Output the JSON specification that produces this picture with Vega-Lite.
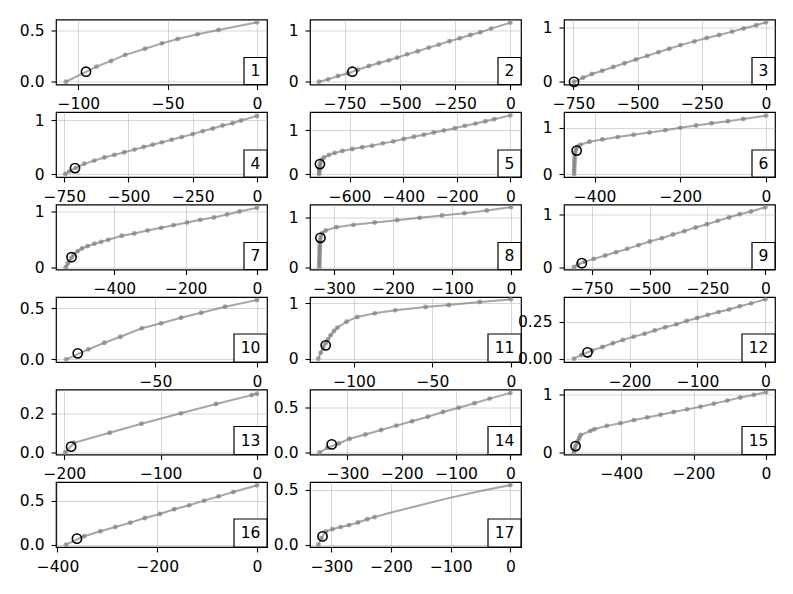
{
"$schema":"https://vega.github.io/schema/vega-lite/v6.json",
"padding":{"left":18,"top":17.5,"right":5,"bottom":5},
"background":"white",
"config":{"view":{"stroke":"black","strokeWidth":1.2},"font":"DejaVu Sans",
"axis":{"domain":false,"grid":true,"gridColor":"#b0b0b0","gridOpacity":0.5,"gridWidth":1,"tickColor":"black","tickSize":5,"tickWidth":1.1,"labelFont":"DejaVu Sans","labelFontSize":15.5,"labelColor":"black","labelPadding":7,"labelFlush":false,"labelOverlap":false,"labelBound":false,"title":null},
"scale":{"zero":false,"nice":false}},
"datasets":{
"pts":[
{"p":1,"x":-107,"y":0},{"p":1,"x":-89.8,"y":0.149},{"p":1,"x":-81.7,"y":0.205},{"p":1,"x":-73.7,"y":0.265},{"p":1,"x":-62.7,"y":0.325},{"p":1,"x":-53.2,"y":0.378},{"p":1,"x":-44.4,"y":0.421},{"p":1,"x":-33.2,"y":0.467},{"p":1,"x":-21.5,"y":0.51},{"p":1,"x":0,"y":0.586},
{"p":2,"x":-866,"y":0},{"p":2,"x":-825,"y":0.046},{"p":2,"x":-780,"y":0.112},{"p":2,"x":-735,"y":0.165},{"p":2,"x":-690,"y":0.235},{"p":2,"x":-640,"y":0.309},{"p":2,"x":-595,"y":0.368},{"p":2,"x":-550,"y":0.421},{"p":2,"x":-512,"y":0.474},{"p":2,"x":-467,"y":0.539},{"p":2,"x":-419,"y":0.599},{"p":2,"x":-369,"y":0.671},{"p":2,"x":-324,"y":0.73},{"p":2,"x":-276,"y":0.796},{"p":2,"x":-229,"y":0.855},{"p":2,"x":-181,"y":0.921},{"p":2,"x":-136,"y":0.974},{"p":2,"x":-87,"y":1.046},{"p":2,"x":0,"y":1.164},
{"p":3,"x":-748,"y":0},{"p":3,"x":-713,"y":0.075},{"p":3,"x":-678,"y":0.144},{"p":3,"x":-638,"y":0.206},{"p":3,"x":-595,"y":0.275},{"p":3,"x":-551,"y":0.344},{"p":3,"x":-507,"y":0.413},{"p":3,"x":-463,"y":0.481},{"p":3,"x":-419,"y":0.55},{"p":3,"x":-377,"y":0.613},{"p":3,"x":-333,"y":0.681},{"p":3,"x":-279,"y":0.75},{"p":3,"x":-231,"y":0.813},{"p":3,"x":-182,"y":0.869},{"p":3,"x":-132,"y":0.931},{"p":3,"x":-87,"y":0.988},{"p":3,"x":-38,"y":1.05},{"p":3,"x":0,"y":1.106},
{"p":4,"x":-746,"y":0},{"p":4,"x":-730,"y":0.05},{"p":4,"x":-705,"y":0.115},{"p":4,"x":-672,"y":0.19},{"p":4,"x":-633,"y":0.25},{"p":4,"x":-594,"y":0.307},{"p":4,"x":-555,"y":0.356},{"p":4,"x":-516,"y":0.405},{"p":4,"x":-477,"y":0.454},{"p":4,"x":-441,"y":0.503},{"p":4,"x":-406,"y":0.546},{"p":4,"x":-370,"y":0.589},{"p":4,"x":-332,"y":0.638},{"p":4,"x":-293,"y":0.687},{"p":4,"x":-250,"y":0.742},{"p":4,"x":-211,"y":0.798},{"p":4,"x":-172,"y":0.847},{"p":4,"x":-134,"y":0.902},{"p":4,"x":-95,"y":0.945},{"p":4,"x":-62,"y":0.994},{"p":4,"x":0,"y":1.08},
{"p":5,"x":-714,"y":0},{"p":5,"x":-713.5,"y":0.05},{"p":5,"x":-713,"y":0.1},{"p":5,"x":-712,"y":0.15},{"p":5,"x":-711,"y":0.2},{"p":5,"x":-709,"y":0.26},{"p":5,"x":-705,"y":0.32},{"p":5,"x":-696,"y":0.376},{"p":5,"x":-677,"y":0.436},{"p":5,"x":-656,"y":0.481},{"p":5,"x":-627,"y":0.526},{"p":5,"x":-590,"y":0.571},{"p":5,"x":-553,"y":0.609},{"p":5,"x":-516,"y":0.647},{"p":5,"x":-476,"y":0.699},{"p":5,"x":-437,"y":0.744},{"p":5,"x":-398,"y":0.797},{"p":5,"x":-360,"y":0.85},{"p":5,"x":-323,"y":0.895},{"p":5,"x":-286,"y":0.947},{"p":5,"x":-248,"y":0.992},{"p":5,"x":-207,"y":1.045},{"p":5,"x":-170,"y":1.098},{"p":5,"x":-130,"y":1.15},{"p":5,"x":-93,"y":1.203},{"p":5,"x":-60,"y":1.248},{"p":5,"x":0,"y":1.338},
{"p":6,"x":-448,"y":0},{"p":6,"x":-447.8,"y":0.06},{"p":6,"x":-447.6,"y":0.12},{"p":6,"x":-447.4,"y":0.18},{"p":6,"x":-447.2,"y":0.24},{"p":6,"x":-447,"y":0.3},{"p":6,"x":-446.5,"y":0.36},{"p":6,"x":-446,"y":0.42},{"p":6,"x":-445,"y":0.48},{"p":6,"x":-443,"y":0.54},{"p":6,"x":-440,"y":0.59},{"p":6,"x":-433,"y":0.635},{"p":6,"x":-412,"y":0.7},{"p":6,"x":-382,"y":0.75},{"p":6,"x":-346,"y":0.8},{"p":6,"x":-309,"y":0.85},{"p":6,"x":-272,"y":0.9},{"p":6,"x":-235,"y":0.95},{"p":6,"x":-200,"y":1.0},{"p":6,"x":-163,"y":1.05},{"p":6,"x":-127,"y":1.1},{"p":6,"x":-89,"y":1.143},{"p":6,"x":-53,"y":1.193},{"p":6,"x":0,"y":1.264},
{"p":7,"x":-536,"y":0},{"p":7,"x":-531,"y":0.06},{"p":7,"x":-526,"y":0.107},{"p":7,"x":-520,"y":0.17},{"p":7,"x":-514,"y":0.226},{"p":7,"x":-503,"y":0.286},{"p":7,"x":-491,"y":0.333},{"p":7,"x":-475,"y":0.375},{"p":7,"x":-456,"y":0.417},{"p":7,"x":-437,"y":0.452},{"p":7,"x":-417,"y":0.488},{"p":7,"x":-379,"y":0.56},{"p":7,"x":-344,"y":0.601},{"p":7,"x":-307,"y":0.655},{"p":7,"x":-269,"y":0.702},{"p":7,"x":-234,"y":0.75},{"p":7,"x":-196,"y":0.798},{"p":7,"x":-159,"y":0.845},{"p":7,"x":-121,"y":0.887},{"p":7,"x":-84,"y":0.94},{"p":7,"x":-49,"y":0.994},{"p":7,"x":0,"y":1.06},
{"p":8,"x":-325,"y":0},{"p":8,"x":-324.9,"y":0.05},{"p":8,"x":-324.8,"y":0.1},{"p":8,"x":-324.7,"y":0.15},{"p":8,"x":-324.6,"y":0.2},{"p":8,"x":-324.5,"y":0.25},{"p":8,"x":-324.4,"y":0.3},{"p":8,"x":-324.3,"y":0.35},{"p":8,"x":-324.2,"y":0.4},{"p":8,"x":-324,"y":0.45},{"p":8,"x":-323.8,"y":0.5},{"p":8,"x":-323.5,"y":0.55},{"p":8,"x":-322.5,"y":0.62},{"p":8,"x":-320,"y":0.69},{"p":8,"x":-314,"y":0.743},{"p":8,"x":-296,"y":0.811},{"p":8,"x":-267,"y":0.858},{"p":8,"x":-231,"y":0.905},{"p":8,"x":-193,"y":0.953},{"p":8,"x":-155,"y":1.0},{"p":8,"x":-117,"y":1.047},{"p":8,"x":-79,"y":1.095},{"p":8,"x":-41,"y":1.149},{"p":8,"x":0,"y":1.216},
{"p":9,"x":-827,"y":0},{"p":9,"x":-810,"y":0.05},{"p":9,"x":-781,"y":0.101},{"p":9,"x":-741,"y":0.158},{"p":9,"x":-692,"y":0.222},{"p":9,"x":-645,"y":0.285},{"p":9,"x":-597,"y":0.348},{"p":9,"x":-548,"y":0.418},{"p":9,"x":-499,"y":0.487},{"p":9,"x":-447,"y":0.551},{"p":9,"x":-399,"y":0.62},{"p":9,"x":-350,"y":0.684},{"p":9,"x":-301,"y":0.753},{"p":9,"x":-252,"y":0.816},{"p":9,"x":-206,"y":0.88},{"p":9,"x":-157,"y":0.943},{"p":9,"x":-111,"y":1.006},{"p":9,"x":-62,"y":1.057},{"p":9,"x":0,"y":1.139},
{"p":10,"x":-93.9,"y":0},{"p":10,"x":-83,"y":0.098},{"p":10,"x":-75.1,"y":0.163},{"p":10,"x":-67.2,"y":0.222},{"p":10,"x":-56.7,"y":0.304},{"p":10,"x":-47.2,"y":0.353},{"p":10,"x":-37.4,"y":0.408},{"p":10,"x":-27.5,"y":0.457},{"p":10,"x":-15.7,"y":0.516},{"p":10,"x":0,"y":0.582},
{"p":11,"x":-122.7,"y":0},{"p":11,"x":-121.2,"y":0.108},{"p":11,"x":-119.5,"y":0.211},{"p":11,"x":-118,"y":0.28},{"p":11,"x":-116.5,"y":0.349},{"p":11,"x":-114.8,"y":0.422},{"p":11,"x":-112.7,"y":0.5},{"p":11,"x":-110.6,"y":0.56},{"p":11,"x":-104.7,"y":0.668},{"p":11,"x":-97.9,"y":0.753},{"p":11,"x":-86.7,"y":0.819},{"p":11,"x":-73.7,"y":0.873},{"p":11,"x":-54.4,"y":0.934},{"p":11,"x":-39.6,"y":0.97},{"p":11,"x":-19.9,"y":1.024},{"p":11,"x":0,"y":1.072},
{"p":12,"x":-282,"y":0},{"p":12,"x":-271,"y":0.025},{"p":12,"x":-255,"y":0.056},{"p":12,"x":-240,"y":0.079},{"p":12,"x":-224.5,"y":0.104},{"p":12,"x":-210,"y":0.126},{"p":12,"x":-194,"y":0.149},{"p":12,"x":-178,"y":0.169},{"p":12,"x":-163,"y":0.191},{"p":12,"x":-147.5,"y":0.212},{"p":12,"x":-131,"y":0.232},{"p":12,"x":-116,"y":0.255},{"p":12,"x":-100.5,"y":0.275},{"p":12,"x":-85,"y":0.295},{"p":12,"x":-69,"y":0.315},{"p":12,"x":-53.4,"y":0.333},{"p":12,"x":-37.7,"y":0.354},{"p":12,"x":-21,"y":0.374},{"p":12,"x":0,"y":0.401},
{"p":13,"x":-199,"y":0},{"p":13,"x":-190,"y":0.05},{"p":13,"x":-153,"y":0.102},{"p":13,"x":-120,"y":0.148},{"p":13,"x":-79,"y":0.202},{"p":13,"x":-42.6,"y":0.25},{"p":13,"x":-5.5,"y":0.296},{"p":13,"x":0,"y":0.303},
{"p":14,"x":-351.5,"y":0},{"p":14,"x":-337,"y":0.052},{"p":14,"x":-316,"y":0.1},{"p":14,"x":-296,"y":0.153},{"p":14,"x":-267,"y":0.2},{"p":14,"x":-238,"y":0.25},{"p":14,"x":-210,"y":0.298},{"p":14,"x":-181,"y":0.347},{"p":14,"x":-152,"y":0.396},{"p":14,"x":-124,"y":0.448},{"p":14,"x":-95,"y":0.496},{"p":14,"x":-66,"y":0.545},{"p":14,"x":-38,"y":0.597},{"p":14,"x":0,"y":0.66},
{"p":15,"x":-530.6,"y":0},{"p":15,"x":-529.5,"y":0.05},{"p":15,"x":-527,"y":0.1},{"p":15,"x":-523,"y":0.15},{"p":15,"x":-519,"y":0.198},{"p":15,"x":-516,"y":0.25},{"p":15,"x":-512,"y":0.302},{"p":15,"x":-485,"y":0.372},{"p":15,"x":-474,"y":0.401},{"p":15,"x":-440,"y":0.459},{"p":15,"x":-402,"y":0.506},{"p":15,"x":-365,"y":0.558},{"p":15,"x":-328,"y":0.605},{"p":15,"x":-291.5,"y":0.651},{"p":15,"x":-255,"y":0.698},{"p":15,"x":-218,"y":0.744},{"p":15,"x":-181,"y":0.791},{"p":15,"x":-144,"y":0.843},{"p":15,"x":-107,"y":0.895},{"p":15,"x":-71,"y":0.948},{"p":15,"x":-34,"y":0.994},{"p":15,"x":0,"y":1.041},
{"p":16,"x":-383,"y":0},{"p":16,"x":-346.5,"y":0.095},{"p":16,"x":-314,"y":0.152},{"p":16,"x":-284,"y":0.201},{"p":16,"x":-254,"y":0.25},{"p":16,"x":-225,"y":0.303},{"p":16,"x":-195,"y":0.348},{"p":16,"x":-166,"y":0.402},{"p":16,"x":-136,"y":0.447},{"p":16,"x":-106,"y":0.5},{"p":16,"x":-77,"y":0.549},{"p":16,"x":-47.5,"y":0.598},{"p":16,"x":0,"y":0.674},
{"p":17,"x":-322,"y":0},{"p":17,"x":-317,"y":0.06},{"p":17,"x":-309.5,"y":0.121},{"p":17,"x":-298.4,"y":0.142},{"p":17,"x":-284.6,"y":0.161},{"p":17,"x":-270.6,"y":0.179},{"p":17,"x":-255.6,"y":0.203},{"p":17,"x":-240,"y":0.233},{"p":17,"x":-227.8,"y":0.252},{"p":17,"x":-200,"y":0.294,"c":1},{"p":17,"x":-150,"y":0.362,"c":1},{"p":17,"x":-100,"y":0.43,"c":1},{"p":17,"x":-50,"y":0.49,"c":1},{"p":17,"x":0,"y":0.545}
],
"hl":[
{"p":1,"x":-95.7,"y":0.099},{"p":2,"x":-715,"y":0.197},{"p":3,"x":-748,"y":0},{"p":4,"x":-708,"y":0.11},{"p":5,"x":-711,"y":0.226},{"p":6,"x":-442,"y":0.507},{"p":7,"x":-520,"y":0.179},{"p":8,"x":-323,"y":0.595},{"p":9,"x":-793,"y":0.076},{"p":10,"x":-88.2,"y":0.059},{"p":11,"x":-118,"y":0.241},{"p":12,"x":-262,"y":0.043},{"p":13,"x":-193,"y":0.03},{"p":14,"x":-329,"y":0.09},{"p":15,"x":-526,"y":0.11},{"p":16,"x":-361,"y":0.068},{"p":17,"x":-315,"y":0.076}
],
"labs":[
{"p":1,"lab":"1"},{"p":2,"lab":"2"},{"p":3,"lab":"3"},{"p":4,"lab":"4"},{"p":5,"lab":"5"},{"p":6,"lab":"6"},{"p":7,"lab":"7"},{"p":8,"lab":"8"},{"p":9,"lab":"9"},{"p":10,"lab":"10"},{"p":11,"lab":"11"},{"p":12,"lab":"12"},{"p":13,"lab":"13"},{"p":14,"lab":"14"},{"p":15,"lab":"15"},{"p":16,"lab":"16"},{"p":17,"lab":"17"}
]},
"columns":3,
"bounds":"flush",
"spacing":{"row":27.5,"column":43},
"concat":[
{"width":211,"height":65,
"encoding":{"x":{"field":"x","type":"quantitative","title":null,"scale":{"domain":[-112.5,5.6]},"axis":{"values":[-100,-50,0]}},"y":{"field":"y","type":"quantitative","title":null,"scale":{"domain":[-0.027,0.613]},"axis":{"values":[0,0.5],"format":".1f"}}},
"layer":[
{"data":{"name":"pts"},"transform":[{"filter":"datum.p==1"}],"mark":{"type":"line","color":"#808080","opacity":0.7,"strokeWidth":2}},
{"data":{"name":"pts"},"transform":[{"filter":"datum.p==1 && !datum.c"}],"mark":{"type":"point","filled":true,"color":"#808080","opacity":0.7,"size":24}},
{"data":{"name":"hl"},"transform":[{"filter":"datum.p==1"}],"mark":{"type":"point","filled":false,"color":"black","opacity":1,"size":85,"strokeWidth":1.6}},
{"data":{"name":"labs"},"transform":[{"filter":"datum.p==1"}],"mark":{"type":"rect","fill":"white","stroke":"black","strokeWidth":1.2,"xOffset":-23,"yOffset":-27},"encoding":{"x":{"value":"width"},"x2":{"value":"width"},"y":{"value":"height"},"y2":{"value":"height"}}},
{"data":{"name":"labs"},"transform":[{"filter":"datum.p==1"}],"mark":{"type":"text","fontSize":15.5,"dx":-11.5,"dy":-13.5,"align":"center","baseline":"middle","color":"black"},"encoding":{"x":{"value":"width"},"y":{"value":"height"},"text":{"field":"lab"}}}
]},
{"width":211,"height":65,
"encoding":{"x":{"field":"x","type":"quantitative","title":null,"scale":{"domain":[-906.6,48.2]},"axis":{"values":[-750,-500,-250,0]}},"y":{"field":"y","type":"quantitative","title":null,"scale":{"domain":[-0.055,1.225]},"axis":{"values":[0,1],"format":"d"}}},
"layer":[
{"data":{"name":"pts"},"transform":[{"filter":"datum.p==2"}],"mark":{"type":"line","color":"#808080","opacity":0.7,"strokeWidth":2}},
{"data":{"name":"pts"},"transform":[{"filter":"datum.p==2 && !datum.c"}],"mark":{"type":"point","filled":true,"color":"#808080","opacity":0.7,"size":24}},
{"data":{"name":"hl"},"transform":[{"filter":"datum.p==2"}],"mark":{"type":"point","filled":false,"color":"black","opacity":1,"size":85,"strokeWidth":1.6}},
{"data":{"name":"labs"},"transform":[{"filter":"datum.p==2"}],"mark":{"type":"rect","fill":"white","stroke":"black","strokeWidth":1.2,"xOffset":-23,"yOffset":-27},"encoding":{"x":{"value":"width"},"x2":{"value":"width"},"y":{"value":"height"},"y2":{"value":"height"}}},
{"data":{"name":"labs"},"transform":[{"filter":"datum.p==2"}],"mark":{"type":"text","fontSize":15.5,"dx":-11.5,"dy":-13.5,"align":"center","baseline":"middle","color":"black"},"encoding":{"x":{"value":"width"},"y":{"value":"height"},"text":{"field":"lab"}}}
]},
{"width":211,"height":65,
"encoding":{"x":{"field":"x","type":"quantitative","title":null,"scale":{"domain":[-787,35]},"axis":{"values":[-750,-500,-250,0]}},"y":{"field":"y","type":"quantitative","title":null,"scale":{"domain":[-0.05,1.156]},"axis":{"values":[0,1],"format":"d"}}},
"layer":[
{"data":{"name":"pts"},"transform":[{"filter":"datum.p==3"}],"mark":{"type":"line","color":"#808080","opacity":0.7,"strokeWidth":2}},
{"data":{"name":"pts"},"transform":[{"filter":"datum.p==3 && !datum.c"}],"mark":{"type":"point","filled":true,"color":"#808080","opacity":0.7,"size":24}},
{"data":{"name":"hl"},"transform":[{"filter":"datum.p==3"}],"mark":{"type":"point","filled":false,"color":"black","opacity":1,"size":85,"strokeWidth":1.6}},
{"data":{"name":"labs"},"transform":[{"filter":"datum.p==3"}],"mark":{"type":"rect","fill":"white","stroke":"black","strokeWidth":1.2,"xOffset":-23,"yOffset":-27},"encoding":{"x":{"value":"width"},"x2":{"value":"width"},"y":{"value":"height"},"y2":{"value":"height"}}},
{"data":{"name":"labs"},"transform":[{"filter":"datum.p==3"}],"mark":{"type":"text","fontSize":15.5,"dx":-11.5,"dy":-13.5,"align":"center","baseline":"middle","color":"black"},"encoding":{"x":{"value":"width"},"y":{"value":"height"},"text":{"field":"lab"}}}
]},
{"width":211,"height":65,
"encoding":{"x":{"field":"x","type":"quantitative","title":null,"scale":{"domain":[-782,39]},"axis":{"values":[-750,-500,-250,0]}},"y":{"field":"y","type":"quantitative","title":null,"scale":{"domain":[-0.055,1.153]},"axis":{"values":[0,1],"format":"d"}}},
"layer":[
{"data":{"name":"pts"},"transform":[{"filter":"datum.p==4"}],"mark":{"type":"line","color":"#808080","opacity":0.7,"strokeWidth":2}},
{"data":{"name":"pts"},"transform":[{"filter":"datum.p==4 && !datum.c"}],"mark":{"type":"point","filled":true,"color":"#808080","opacity":0.7,"size":24}},
{"data":{"name":"hl"},"transform":[{"filter":"datum.p==4"}],"mark":{"type":"point","filled":false,"color":"black","opacity":1,"size":85,"strokeWidth":1.6}},
{"data":{"name":"labs"},"transform":[{"filter":"datum.p==4"}],"mark":{"type":"rect","fill":"white","stroke":"black","strokeWidth":1.2,"xOffset":-23,"yOffset":-27},"encoding":{"x":{"value":"width"},"x2":{"value":"width"},"y":{"value":"height"},"y2":{"value":"height"}}},
{"data":{"name":"labs"},"transform":[{"filter":"datum.p==4"}],"mark":{"type":"text","fontSize":15.5,"dx":-11.5,"dy":-13.5,"align":"center","baseline":"middle","color":"black"},"encoding":{"x":{"value":"width"},"y":{"value":"height"},"text":{"field":"lab"}}}
]},
{"width":211,"height":65,
"encoding":{"x":{"field":"x","type":"quantitative","title":null,"scale":{"domain":[-748,39.8]},"axis":{"values":[-600,-400,-200,0]}},"y":{"field":"y","type":"quantitative","title":null,"scale":{"domain":[-0.068,1.414]},"axis":{"values":[0,1],"format":"d"}}},
"layer":[
{"data":{"name":"pts"},"transform":[{"filter":"datum.p==5"}],"mark":{"type":"line","color":"#808080","opacity":0.7,"strokeWidth":2}},
{"data":{"name":"pts"},"transform":[{"filter":"datum.p==5 && !datum.c"}],"mark":{"type":"point","filled":true,"color":"#808080","opacity":0.7,"size":24}},
{"data":{"name":"hl"},"transform":[{"filter":"datum.p==5"}],"mark":{"type":"point","filled":false,"color":"black","opacity":1,"size":85,"strokeWidth":1.6}},
{"data":{"name":"labs"},"transform":[{"filter":"datum.p==5"}],"mark":{"type":"rect","fill":"white","stroke":"black","strokeWidth":1.2,"xOffset":-23,"yOffset":-27},"encoding":{"x":{"value":"width"},"x2":{"value":"width"},"y":{"value":"height"},"y2":{"value":"height"}}},
{"data":{"name":"labs"},"transform":[{"filter":"datum.p==5"}],"mark":{"type":"text","fontSize":15.5,"dx":-11.5,"dy":-13.5,"align":"center","baseline":"middle","color":"black"},"encoding":{"x":{"value":"width"},"y":{"value":"height"},"text":{"field":"lab"}}}
]},
{"width":211,"height":65,
"encoding":{"x":{"field":"x","type":"quantitative","title":null,"scale":{"domain":[-471.5,21]},"axis":{"values":[-400,-200,0]}},"y":{"field":"y","type":"quantitative","title":null,"scale":{"domain":[-0.064,1.343]},"axis":{"values":[0,1],"format":"d"}}},
"layer":[
{"data":{"name":"pts"},"transform":[{"filter":"datum.p==6"}],"mark":{"type":"line","color":"#808080","opacity":0.7,"strokeWidth":2}},
{"data":{"name":"pts"},"transform":[{"filter":"datum.p==6 && !datum.c"}],"mark":{"type":"point","filled":true,"color":"#808080","opacity":0.7,"size":24}},
{"data":{"name":"hl"},"transform":[{"filter":"datum.p==6"}],"mark":{"type":"point","filled":false,"color":"black","opacity":1,"size":85,"strokeWidth":1.6}},
{"data":{"name":"labs"},"transform":[{"filter":"datum.p==6"}],"mark":{"type":"rect","fill":"white","stroke":"black","strokeWidth":1.2,"xOffset":-23,"yOffset":-27},"encoding":{"x":{"value":"width"},"x2":{"value":"width"},"y":{"value":"height"},"y2":{"value":"height"}}},
{"data":{"name":"labs"},"transform":[{"filter":"datum.p==6"}],"mark":{"type":"text","fontSize":15.5,"dx":-11.5,"dy":-13.5,"align":"center","baseline":"middle","color":"black"},"encoding":{"x":{"value":"width"},"y":{"value":"height"},"text":{"field":"lab"}}}
]},
{"width":211,"height":65,
"encoding":{"x":{"field":"x","type":"quantitative","title":null,"scale":{"domain":[-563.6,28]},"axis":{"values":[-400,-200,0]}},"y":{"field":"y","type":"quantitative","title":null,"scale":{"domain":[-0.042,1.119]},"axis":{"values":[0,1],"format":"d"}}},
"layer":[
{"data":{"name":"pts"},"transform":[{"filter":"datum.p==7"}],"mark":{"type":"line","color":"#808080","opacity":0.7,"strokeWidth":2}},
{"data":{"name":"pts"},"transform":[{"filter":"datum.p==7 && !datum.c"}],"mark":{"type":"point","filled":true,"color":"#808080","opacity":0.7,"size":24}},
{"data":{"name":"hl"},"transform":[{"filter":"datum.p==7"}],"mark":{"type":"point","filled":false,"color":"black","opacity":1,"size":85,"strokeWidth":1.6}},
{"data":{"name":"labs"},"transform":[{"filter":"datum.p==7"}],"mark":{"type":"rect","fill":"white","stroke":"black","strokeWidth":1.2,"xOffset":-23,"yOffset":-27},"encoding":{"x":{"value":"width"},"x2":{"value":"width"},"y":{"value":"height"},"y2":{"value":"height"}}},
{"data":{"name":"labs"},"transform":[{"filter":"datum.p==7"}],"mark":{"type":"text","fontSize":15.5,"dx":-11.5,"dy":-13.5,"align":"center","baseline":"middle","color":"black"},"encoding":{"x":{"value":"width"},"y":{"value":"height"},"text":{"field":"lab"}}}
]},
{"width":211,"height":65,
"encoding":{"x":{"field":"x","type":"quantitative","title":null,"scale":{"domain":[-340.7,16.9]},"axis":{"values":[-300,-200,-100,0]}},"y":{"field":"y","type":"quantitative","title":null,"scale":{"domain":[-0.047,1.27]},"axis":{"values":[0,1],"format":"d"}}},
"layer":[
{"data":{"name":"pts"},"transform":[{"filter":"datum.p==8"}],"mark":{"type":"line","color":"#808080","opacity":0.7,"strokeWidth":2}},
{"data":{"name":"pts"},"transform":[{"filter":"datum.p==8 && !datum.c"}],"mark":{"type":"point","filled":true,"color":"#808080","opacity":0.7,"size":24}},
{"data":{"name":"hl"},"transform":[{"filter":"datum.p==8"}],"mark":{"type":"point","filled":false,"color":"black","opacity":1,"size":85,"strokeWidth":1.6}},
{"data":{"name":"labs"},"transform":[{"filter":"datum.p==8"}],"mark":{"type":"rect","fill":"white","stroke":"black","strokeWidth":1.2,"xOffset":-23,"yOffset":-27},"encoding":{"x":{"value":"width"},"x2":{"value":"width"},"y":{"value":"height"},"y2":{"value":"height"}}},
{"data":{"name":"labs"},"transform":[{"filter":"datum.p==8"}],"mark":{"type":"text","fontSize":15.5,"dx":-11.5,"dy":-13.5,"align":"center","baseline":"middle","color":"black"},"encoding":{"x":{"value":"width"},"y":{"value":"height"},"text":{"field":"lab"}}}
]},
{"width":211,"height":65,
"encoding":{"x":{"field":"x","type":"quantitative","title":null,"scale":{"domain":[-870,41.7]},"axis":{"values":[-750,-500,-250,0]}},"y":{"field":"y","type":"quantitative","title":null,"scale":{"domain":[-0.044,1.19]},"axis":{"values":[0,1],"format":"d"}}},
"layer":[
{"data":{"name":"pts"},"transform":[{"filter":"datum.p==9"}],"mark":{"type":"line","color":"#808080","opacity":0.7,"strokeWidth":2}},
{"data":{"name":"pts"},"transform":[{"filter":"datum.p==9 && !datum.c"}],"mark":{"type":"point","filled":true,"color":"#808080","opacity":0.7,"size":24}},
{"data":{"name":"hl"},"transform":[{"filter":"datum.p==9"}],"mark":{"type":"point","filled":false,"color":"black","opacity":1,"size":85,"strokeWidth":1.6}},
{"data":{"name":"labs"},"transform":[{"filter":"datum.p==9"}],"mark":{"type":"rect","fill":"white","stroke":"black","strokeWidth":1.2,"xOffset":-23,"yOffset":-27},"encoding":{"x":{"value":"width"},"x2":{"value":"width"},"y":{"value":"height"},"y2":{"value":"height"}}},
{"data":{"name":"labs"},"transform":[{"filter":"datum.p==9"}],"mark":{"type":"text","fontSize":15.5,"dx":-11.5,"dy":-13.5,"align":"center","baseline":"middle","color":"black"},"encoding":{"x":{"value":"width"},"y":{"value":"height"},"text":{"field":"lab"}}}
]},
{"width":211,"height":65,
"encoding":{"x":{"field":"x","type":"quantitative","title":null,"scale":{"domain":[-98.9,4.9]},"axis":{"values":[-50,0]}},"y":{"field":"y","type":"quantitative","title":null,"scale":{"domain":[-0.026,0.611]},"axis":{"values":[0,0.5],"format":".1f"}}},
"layer":[
{"data":{"name":"pts"},"transform":[{"filter":"datum.p==10"}],"mark":{"type":"line","color":"#808080","opacity":0.7,"strokeWidth":2}},
{"data":{"name":"pts"},"transform":[{"filter":"datum.p==10 && !datum.c"}],"mark":{"type":"point","filled":true,"color":"#808080","opacity":0.7,"size":24}},
{"data":{"name":"hl"},"transform":[{"filter":"datum.p==10"}],"mark":{"type":"point","filled":false,"color":"black","opacity":1,"size":85,"strokeWidth":1.6}},
{"data":{"name":"labs"},"transform":[{"filter":"datum.p==10"}],"mark":{"type":"rect","fill":"white","stroke":"black","strokeWidth":1.2,"xOffset":-33,"yOffset":-28},"encoding":{"x":{"value":"width"},"x2":{"value":"width"},"y":{"value":"height"},"y2":{"value":"height"}}},
{"data":{"name":"labs"},"transform":[{"filter":"datum.p==10"}],"mark":{"type":"text","fontSize":15.5,"dx":-16.5,"dy":-14,"align":"center","baseline":"middle","color":"black"},"encoding":{"x":{"value":"width"},"y":{"value":"height"},"text":{"field":"lab"}}}
]},
{"width":211,"height":65,
"encoding":{"x":{"field":"x","type":"quantitative","title":null,"scale":{"domain":[-128,6.4]},"axis":{"values":[-100,-50,0]}},"y":{"field":"y","type":"quantitative","title":null,"scale":{"domain":[-0.06,1.114]},"axis":{"values":[0,1],"format":"d"}}},
"layer":[
{"data":{"name":"pts"},"transform":[{"filter":"datum.p==11"}],"mark":{"type":"line","color":"#808080","opacity":0.7,"strokeWidth":2}},
{"data":{"name":"pts"},"transform":[{"filter":"datum.p==11 && !datum.c"}],"mark":{"type":"point","filled":true,"color":"#808080","opacity":0.7,"size":24}},
{"data":{"name":"hl"},"transform":[{"filter":"datum.p==11"}],"mark":{"type":"point","filled":false,"color":"black","opacity":1,"size":85,"strokeWidth":1.6}},
{"data":{"name":"labs"},"transform":[{"filter":"datum.p==11"}],"mark":{"type":"rect","fill":"white","stroke":"black","strokeWidth":1.2,"xOffset":-33,"yOffset":-28},"encoding":{"x":{"value":"width"},"x2":{"value":"width"},"y":{"value":"height"},"y2":{"value":"height"}}},
{"data":{"name":"labs"},"transform":[{"filter":"datum.p==11"}],"mark":{"type":"text","fontSize":15.5,"dx":-16.5,"dy":-14,"align":"center","baseline":"middle","color":"black"},"encoding":{"x":{"value":"width"},"y":{"value":"height"},"text":{"field":"lab"}}}
]},
{"width":211,"height":65,
"encoding":{"x":{"field":"x","type":"quantitative","title":null,"scale":{"domain":[-296.6,14.2]},"axis":{"values":[-200,-100,0]}},"y":{"field":"y","type":"quantitative","title":null,"scale":{"domain":[-0.0225,0.417]},"axis":{"values":[0,0.25],"format":".2f"}}},
"layer":[
{"data":{"name":"pts"},"transform":[{"filter":"datum.p==12"}],"mark":{"type":"line","color":"#808080","opacity":0.7,"strokeWidth":2}},
{"data":{"name":"pts"},"transform":[{"filter":"datum.p==12 && !datum.c"}],"mark":{"type":"point","filled":true,"color":"#808080","opacity":0.7,"size":24}},
{"data":{"name":"hl"},"transform":[{"filter":"datum.p==12"}],"mark":{"type":"point","filled":false,"color":"black","opacity":1,"size":85,"strokeWidth":1.6}},
{"data":{"name":"labs"},"transform":[{"filter":"datum.p==12"}],"mark":{"type":"rect","fill":"white","stroke":"black","strokeWidth":1.2,"xOffset":-33,"yOffset":-28},"encoding":{"x":{"value":"width"},"x2":{"value":"width"},"y":{"value":"height"},"y2":{"value":"height"}}},
{"data":{"name":"labs"},"transform":[{"filter":"datum.p==12"}],"mark":{"type":"text","fontSize":15.5,"dx":-16.5,"dy":-14,"align":"center","baseline":"middle","color":"black"},"encoding":{"x":{"value":"width"},"y":{"value":"height"},"text":{"field":"lab"}}}
]},
{"width":211,"height":65,
"encoding":{"x":{"field":"x","type":"quantitative","title":null,"scale":{"domain":[-208.7,10.4]},"axis":{"values":[-200,-100,0]}},"y":{"field":"y","type":"quantitative","title":null,"scale":{"domain":[-0.0104,0.325]},"axis":{"values":[0,0.2],"format":".1f"}}},
"layer":[
{"data":{"name":"pts"},"transform":[{"filter":"datum.p==13"}],"mark":{"type":"line","color":"#808080","opacity":0.7,"strokeWidth":2}},
{"data":{"name":"pts"},"transform":[{"filter":"datum.p==13 && !datum.c"}],"mark":{"type":"point","filled":true,"color":"#808080","opacity":0.7,"size":24}},
{"data":{"name":"hl"},"transform":[{"filter":"datum.p==13"}],"mark":{"type":"point","filled":false,"color":"black","opacity":1,"size":85,"strokeWidth":1.6}},
{"data":{"name":"labs"},"transform":[{"filter":"datum.p==13"}],"mark":{"type":"rect","fill":"white","stroke":"black","strokeWidth":1.2,"xOffset":-33,"yOffset":-28},"encoding":{"x":{"value":"width"},"x2":{"value":"width"},"y":{"value":"height"},"y2":{"value":"height"}}},
{"data":{"name":"labs"},"transform":[{"filter":"datum.p==13"}],"mark":{"type":"text","fontSize":15.5,"dx":-16.5,"dy":-14,"align":"center","baseline":"middle","color":"black"},"encoding":{"x":{"value":"width"},"y":{"value":"height"},"text":{"field":"lab"}}}
]},
{"width":211,"height":65,
"encoding":{"x":{"field":"x","type":"quantitative","title":null,"scale":{"domain":[-369,19.6]},"axis":{"values":[-300,-200,-100,0]}},"y":{"field":"y","type":"quantitative","title":null,"scale":{"domain":[-0.022,0.698]},"axis":{"values":[0,0.5],"format":".1f"}}},
"layer":[
{"data":{"name":"pts"},"transform":[{"filter":"datum.p==14"}],"mark":{"type":"line","color":"#808080","opacity":0.7,"strokeWidth":2}},
{"data":{"name":"pts"},"transform":[{"filter":"datum.p==14 && !datum.c"}],"mark":{"type":"point","filled":true,"color":"#808080","opacity":0.7,"size":24}},
{"data":{"name":"hl"},"transform":[{"filter":"datum.p==14"}],"mark":{"type":"point","filled":false,"color":"black","opacity":1,"size":85,"strokeWidth":1.6}},
{"data":{"name":"labs"},"transform":[{"filter":"datum.p==14"}],"mark":{"type":"rect","fill":"white","stroke":"black","strokeWidth":1.2,"xOffset":-33,"yOffset":-28},"encoding":{"x":{"value":"width"},"x2":{"value":"width"},"y":{"value":"height"},"y2":{"value":"height"}}},
{"data":{"name":"labs"},"transform":[{"filter":"datum.p==14"}],"mark":{"type":"text","fontSize":15.5,"dx":-16.5,"dy":-14,"align":"center","baseline":"middle","color":"black"},"encoding":{"x":{"value":"width"},"y":{"value":"height"},"text":{"field":"lab"}}}
]},
{"width":211,"height":65,
"encoding":{"x":{"field":"x","type":"quantitative","title":null,"scale":{"domain":[-558,24.8]},"axis":{"values":[-400,-200,0]}},"y":{"field":"y","type":"quantitative","title":null,"scale":{"domain":[-0.035,1.087]},"axis":{"values":[0,1],"format":"d"}}},
"layer":[
{"data":{"name":"pts"},"transform":[{"filter":"datum.p==15"}],"mark":{"type":"line","color":"#808080","opacity":0.7,"strokeWidth":2}},
{"data":{"name":"pts"},"transform":[{"filter":"datum.p==15 && !datum.c"}],"mark":{"type":"point","filled":true,"color":"#808080","opacity":0.7,"size":24}},
{"data":{"name":"hl"},"transform":[{"filter":"datum.p==15"}],"mark":{"type":"point","filled":false,"color":"black","opacity":1,"size":85,"strokeWidth":1.6}},
{"data":{"name":"labs"},"transform":[{"filter":"datum.p==15"}],"mark":{"type":"rect","fill":"white","stroke":"black","strokeWidth":1.2,"xOffset":-33,"yOffset":-28},"encoding":{"x":{"value":"width"},"x2":{"value":"width"},"y":{"value":"height"},"y2":{"value":"height"}}},
{"data":{"name":"labs"},"transform":[{"filter":"datum.p==15"}],"mark":{"type":"text","fontSize":15.5,"dx":-16.5,"dy":-14,"align":"center","baseline":"middle","color":"black"},"encoding":{"x":{"value":"width"},"y":{"value":"height"},"text":{"field":"lab"}}}
]},
{"width":211,"height":65,
"encoding":{"x":{"field":"x","type":"quantitative","title":null,"scale":{"domain":[-403,20]},"axis":{"values":[-400,-200,0]}},"y":{"field":"y","type":"quantitative","title":null,"scale":{"domain":[-0.0265,0.712]},"axis":{"values":[0,0.5],"format":".1f"}}},
"layer":[
{"data":{"name":"pts"},"transform":[{"filter":"datum.p==16"}],"mark":{"type":"line","color":"#808080","opacity":0.7,"strokeWidth":2}},
{"data":{"name":"pts"},"transform":[{"filter":"datum.p==16 && !datum.c"}],"mark":{"type":"point","filled":true,"color":"#808080","opacity":0.7,"size":24}},
{"data":{"name":"hl"},"transform":[{"filter":"datum.p==16"}],"mark":{"type":"point","filled":false,"color":"black","opacity":1,"size":85,"strokeWidth":1.6}},
{"data":{"name":"labs"},"transform":[{"filter":"datum.p==16"}],"mark":{"type":"rect","fill":"white","stroke":"black","strokeWidth":1.2,"xOffset":-33,"yOffset":-28},"encoding":{"x":{"value":"width"},"x2":{"value":"width"},"y":{"value":"height"},"y2":{"value":"height"}}},
{"data":{"name":"labs"},"transform":[{"filter":"datum.p==16"}],"mark":{"type":"text","fontSize":15.5,"dx":-16.5,"dy":-14,"align":"center","baseline":"middle","color":"black"},"encoding":{"x":{"value":"width"},"y":{"value":"height"},"text":{"field":"lab"}}}
]},
{"width":211,"height":65,
"encoding":{"x":{"field":"x","type":"quantitative","title":null,"scale":{"domain":[-336,17.9]},"axis":{"values":[-300,-200,-100,0]}},"y":{"field":"y","type":"quantitative","title":null,"scale":{"domain":[-0.021,0.573]},"axis":{"values":[0,0.5],"format":".1f"}}},
"layer":[
{"data":{"name":"pts"},"transform":[{"filter":"datum.p==17"}],"mark":{"type":"line","color":"#808080","opacity":0.7,"strokeWidth":2}},
{"data":{"name":"pts"},"transform":[{"filter":"datum.p==17 && !datum.c"}],"mark":{"type":"point","filled":true,"color":"#808080","opacity":0.7,"size":24}},
{"data":{"name":"hl"},"transform":[{"filter":"datum.p==17"}],"mark":{"type":"point","filled":false,"color":"black","opacity":1,"size":85,"strokeWidth":1.6}},
{"data":{"name":"labs"},"transform":[{"filter":"datum.p==17"}],"mark":{"type":"rect","fill":"white","stroke":"black","strokeWidth":1.2,"xOffset":-33,"yOffset":-28},"encoding":{"x":{"value":"width"},"x2":{"value":"width"},"y":{"value":"height"},"y2":{"value":"height"}}},
{"data":{"name":"labs"},"transform":[{"filter":"datum.p==17"}],"mark":{"type":"text","fontSize":15.5,"dx":-16.5,"dy":-14,"align":"center","baseline":"middle","color":"black"},"encoding":{"x":{"value":"width"},"y":{"value":"height"},"text":{"field":"lab"}}}
]}
]}
